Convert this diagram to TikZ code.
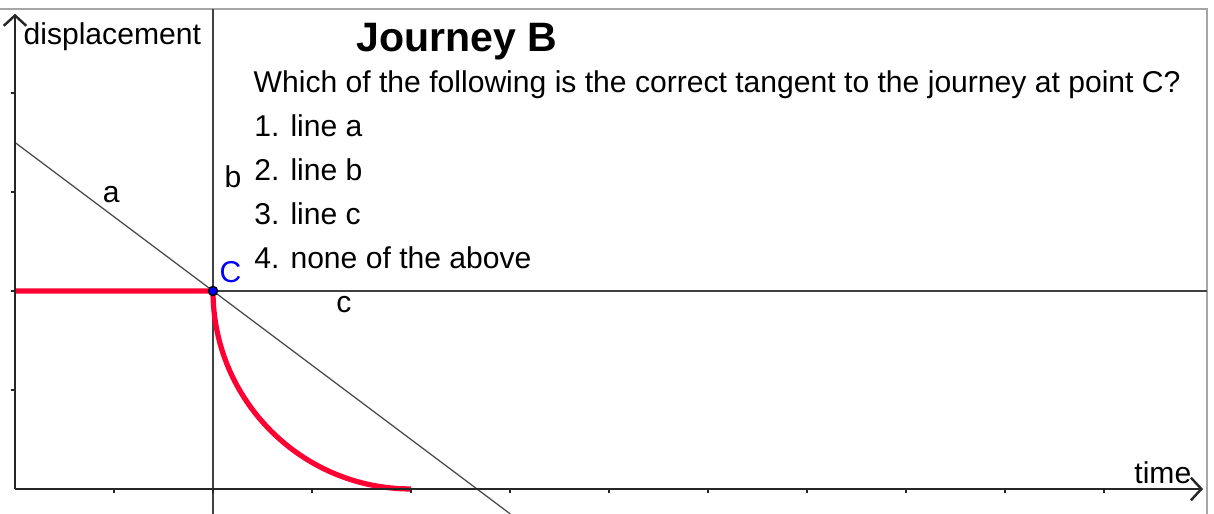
\documentclass[tikz,border=0pt]{standalone}
\usepackage{fontspec}
\setmainfont{Liberation Sans}
\usetikzlibrary{arrows.meta,positioning}
\definecolor{journeyred}{RGB}{255,0,51}
\definecolor{pointblue}{RGB}{0,0,255}

\begin{document}
\begin{tikzpicture}[>={Straight Barb[length=3pt,width=6.5pt]}, x=1cm, y=1cm,
    axis/.style={line width=0.7pt, black!85},
    guide/.style={line width=0.35pt, black!75},
    journey/.style={line width=1.5pt, journeyred},
    lbl/.style={inner sep=0pt, anchor=base west, font=\fontsize{8.65}{10}\selectfont},
    dot/.style={circle, draw=black, fill=pointblue, inner sep=0pt, minimum size=2.6pt}]
    \useasboundingbox (-0.1515,-0.2525) rectangle (12.111,4.939);

    % frame of the graphics view
    \draw[black!35, line width=0.4pt] (-0.1515,4.848) -- (12.04,4.848) -- (12.04,-0.2525);

    \coordinate (origin) at (0,0);
    \coordinate (xend) at (12.0,0);
    \coordinate (yend) at (0,4.8);
    \coordinate (atop) at (0,3.5);
    \coordinate (abot) at (5.003,-0.2525);
    \coordinate (btop) at (2,4.848);
    \coordinate (bbot) at (2,-0.2525);
    \coordinate (cleft) at (0,2);
    \coordinate (cright) at (12.04,2);

    % lines a, b, c
    \path[draw, guide] (atop) -- (abot);
    \path[draw, guide] (btop) -- (bbot);
    \path[draw, guide] (cleft) -- (cright);

    % journey
    \coordinate (Cpt) at (2,2);
    \draw[journey] (cleft) -- (Cpt) arc[start angle=180, end angle=270, radius=2];

    % axes and ticks
    \draw[axis, ->] (origin) -- (xend);
    \draw[axis, ->] (origin) -- (yend);
    \foreach \k in {1,...,11}
        \draw[axis] (\k,0) -- (\k,-0.045);
    \foreach \k in {1,...,4}
        \draw[axis] (0,\k) -- (-0.045,\k);
    \node[dot] (C) at (Cpt) {};

    \node[lbl] (ylabel) at (0.08,4.485) {displacement};
    \node[lbl] (xlabel) at (11.3,0.06) {time};
    \node[lbl] (alabel) at (0.88,2.889) {a};
    \node[lbl] (blabel) at (2.11,3.05) {b};
    \node[lbl] (clabel) at (3.24,1.778) {c};
    \node[lbl, text=pointblue] (Clabel) at (2.06,2.09) {C};

    \node[lbl, font=\fontsize{11.8}{14}\selectfont\bfseries] (title) at (3.445,4.414) {Journey B};
    \node[lbl] (question) at (2.404,4.0) {Which of the following is the correct tangent to the journey at point C?};
    \node[lbl] (opt1) at (2.41,3.556) {1. line a};
    \node[lbl] (opt2) at (2.41,3.111) {2. line b};
    \node[lbl] (opt3) at (2.41,2.667) {3. line c};
    \node[lbl] (opt4) at (2.41,2.222) {4. none of the above};
\end{tikzpicture}
\end{document}
